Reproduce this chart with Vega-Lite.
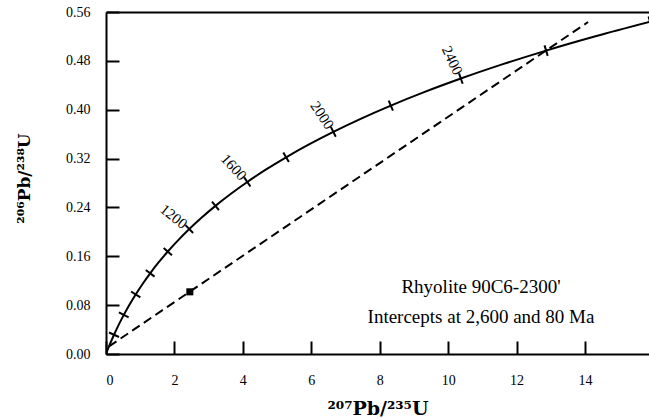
{
  "$schema": "https://vega.github.io/schema/vega-lite/v6.json",
  "width": 543,
  "height": 342,
  "autosize": {"type": "none"},
  "padding": {"left": 106, "top": 12, "right": 0, "bottom": 65},
  "background": "white",
  "config": {
    "view": {"stroke": null},
    "font": "Liberation Serif",
    "axis": {
      "domainColor": "black", "domainWidth": 2,
      "tickColor": "black", "tickWidth": 2, "tickSize": -13,
      "labelFont": "Liberation Serif", "labelFontSize": 14, "labelColor": "black",
      "grid": false,
      "titleFont": "DejaVu Serif", "titleColor": "black", "titleFontWeight": "bold"
    }
  },
  "datasets": {
    "concordia": [
      {"age": 0, "r207": 0, "r206": 0},
      {"age": 100, "r207": 0.1115, "r206": 0.01563},
      {"age": 200, "r207": 0.2345, "r206": 0.03151},
      {"age": 300, "r207": 0.3702, "r206": 0.04764},
      {"age": 400, "r207": 0.5200, "r206": 0.06402},
      {"age": 500, "r207": 0.6853, "r206": 0.08065},
      {"age": 600, "r207": 0.8677, "r206": 0.09754},
      {"age": 700, "r207": 1.0689, "r206": 0.11470},
      {"age": 800, "r207": 1.2910, "r206": 0.13213},
      {"age": 900, "r207": 1.5361, "r206": 0.14983},
      {"age": 1000, "r207": 1.8066, "r206": 0.16781},
      {"age": 1100, "r207": 2.1050, "r206": 0.18606},
      {"age": 1200, "r207": 2.4343, "r206": 0.20461},
      {"age": 1300, "r207": 2.7978, "r206": 0.22344},
      {"age": 1400, "r207": 3.1988, "r206": 0.24256},
      {"age": 1500, "r207": 3.6413, "r206": 0.26199},
      {"age": 1600, "r207": 4.1297, "r206": 0.28172},
      {"age": 1700, "r207": 4.6686, "r206": 0.30175},
      {"age": 1800, "r207": 5.2632, "r206": 0.32210},
      {"age": 1900, "r207": 5.9194, "r206": 0.34277},
      {"age": 2000, "r207": 6.6435, "r206": 0.36376},
      {"age": 2100, "r207": 7.4426, "r206": 0.38508},
      {"age": 2200, "r207": 8.3243, "r206": 0.40674},
      {"age": 2300, "r207": 9.2973, "r206": 0.42873},
      {"age": 2400, "r207": 10.3710, "r206": 0.45106},
      {"age": 2500, "r207": 11.5559, "r206": 0.47375},
      {"age": 2600, "r207": 12.8634, "r206": 0.49679},
      {"age": 2700, "r207": 14.3062, "r206": 0.52019},
      {"age": 2800, "r207": 15.8983, "r206": 0.54395}
    ],
    "discordia": [
      {"r207": 0.0883, "r206": 0.0125},
      {"r207": 14.09, "r206": 0.5436}
    ],
    "sample": [
      {"r207": 2.45, "r206": 0.1018}
    ],
    "notes": [
      {"r207": 10.96, "r206": 0.1097, "note": "Rhyolite 90C6-2300'"},
      {"r207": 10.96, "r206": 0.0606, "note": "Intercepts at 2,600 and 80 Ma"}
    ]
  },
  "layer": [
    {
      "data": {"name": "concordia"},
      "mark": {"type": "line", "color": "black", "strokeWidth": 2, "interpolate": "monotone", "clip": true},
      "encoding": {
        "x": {
          "field": "r207", "type": "quantitative",
          "scale": {"domain": [0, 15.87], "nice": false, "zero": false},
          "axis": {
            "orient": "bottom", "values": [0, 2, 4, 6, 8, 10, 12, 14], "format": "d",
            "labelPadding": 32, "title": "²⁰⁷Pb/²³⁵U", "titleFontSize": 19,
            "titleBaseline": "alphabetic", "titleY": 60
          }
        },
        "y": {
          "field": "r206", "type": "quantitative",
          "scale": {"domain": [0, 0.56], "nice": false},
          "axis": {
            "values": [0, 0.08, 0.16, 0.24, 0.32, 0.4, 0.48, 0.56], "format": ".2f",
            "labelPadding": 29, "title": "²⁰⁶Pb/²³⁸U", "titleFontSize": 17,
            "titleBaseline": "middle", "titleX": -82, "titleY": 166, "titleAlign": "center"
          }
        },
        "order": {"field": "age", "type": "quantitative"}
      }
    },
    {
      "data": {"name": "discordia"},
      "mark": {"type": "line", "color": "black", "strokeWidth": 2, "strokeDash": [9, 5]},
      "encoding": {
        "x": {"field": "r207", "type": "quantitative",
          "axis": {"orient": "top", "labels": false, "ticks": false, "title": null, "domain": true}},
        "y": {"field": "r206", "type": "quantitative"}
      }
    },
    {
      "data": {"name": "concordia"},
      "transform": [{"filter": "datum.age > 0 && datum.age % 200 == 0"}],
      "mark": {"type": "point", "shape": "stroke", "size": 121, "filled": false, "stroke": "black", "strokeWidth": 2, "opacity": 1, "clip": true},
      "encoding": {
        "x": {"field": "r207", "type": "quantitative", "axis": null},
        "y": {"field": "r206", "type": "quantitative"},
        "angle": {"field": "age", "type": "quantitative", "legend": null,
          "scale": {"domain": [200, 400, 600, 800, 1000, 1200, 1400, 1600, 1800, 2000, 2200, 2400, 2600, 2800],
                    "range": [24.3, 28.1, 32.2, 36.7, 41.3, 46.05, 50.8, 55.3, 59.6, 63.6, 67.2, 70.4, 73.2, 75.6]}}
      }
    },
    {
      "data": {"name": "concordia"},
      "transform": [{"filter": "indexof([1200, 1600, 2000, 2400], datum.age) >= 0"}],
      "mark": {"type": "text", "align": "right", "baseline": "middle", "dx": -5, "fontSize": 15, "font": "Liberation Serif", "color": "black"},
      "encoding": {
        "x": {"field": "r207", "type": "quantitative", "axis": null},
        "y": {"field": "r206", "type": "quantitative"},
        "text": {"field": "age", "type": "quantitative", "format": "d"},
        "angle": {"field": "age", "type": "quantitative", "legend": null,
          "scale": {"domain": [1200, 2400], "range": [39, 65]}}
      }
    },
    {
      "data": {"name": "sample"},
      "mark": {"type": "point", "shape": "square", "size": 50, "filled": true, "color": "black", "opacity": 1},
      "encoding": {
        "x": {"field": "r207", "type": "quantitative", "axis": null},
        "y": {"field": "r206", "type": "quantitative"}
      }
    },
    {
      "data": {"name": "notes"},
      "mark": {"type": "text", "align": "center", "baseline": "middle", "fontSize": 19, "font": "Liberation Serif", "color": "black"},
      "encoding": {
        "x": {"field": "r207", "type": "quantitative", "axis": null},
        "y": {"field": "r206", "type": "quantitative"},
        "text": {"field": "note", "type": "nominal"}
      }
    }
  ],
  "resolve": {"axis": {"x": "independent"}, "scale": {"angle": "independent"}}
}
